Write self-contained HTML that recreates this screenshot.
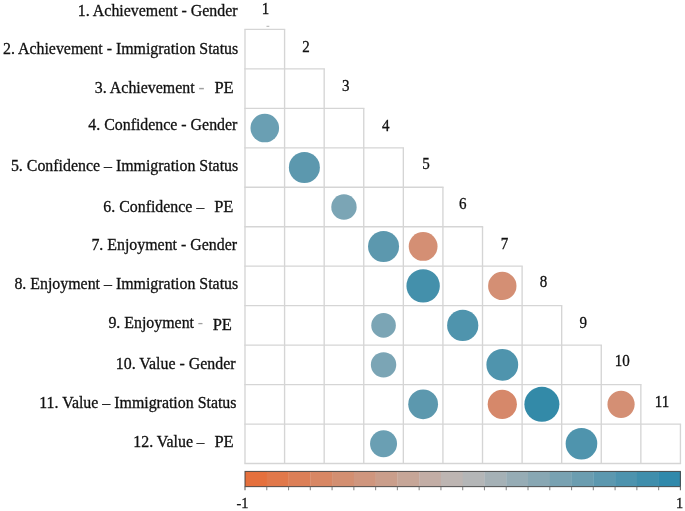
<!DOCTYPE html><html><head><meta charset="utf-8"><title>Correlation plot</title>
<style>html,body{margin:0;padding:0;background:#fff;}body{width:685px;height:511px;overflow:hidden;}svg{display:block;filter:blur(0.4px);}text{font-family:"Liberation Serif",serif;fill:#111;stroke:#111;stroke-width:0.3px;}</style></head><body>
<svg width="685" height="511" viewBox="0 0 685 511">
<rect width="685" height="511" fill="#fff"/>
<g fill="none" stroke="#d5d5d5" stroke-width="1.35">
<line x1="244.33" y1="29.40" x2="285.25" y2="29.40"/>
<line x1="244.33" y1="68.87" x2="324.84" y2="68.87"/>
<line x1="244.33" y1="108.33" x2="364.43" y2="108.33"/>
<line x1="244.33" y1="147.80" x2="404.01" y2="147.80"/>
<line x1="244.33" y1="187.26" x2="443.60" y2="187.26"/>
<line x1="244.33" y1="226.73" x2="483.18" y2="226.73"/>
<line x1="244.33" y1="266.19" x2="522.76" y2="266.19"/>
<line x1="244.33" y1="305.65" x2="562.35" y2="305.65"/>
<line x1="244.33" y1="345.12" x2="601.93" y2="345.12"/>
<line x1="244.33" y1="384.59" x2="641.52" y2="384.59"/>
<line x1="244.33" y1="424.05" x2="681.10" y2="424.05"/>
<line x1="244.33" y1="463.51" x2="681.10" y2="463.51"/>
<line x1="245.00" y1="29.40" x2="245.00" y2="463.51"/>
<line x1="284.58" y1="29.40" x2="284.58" y2="463.51"/>
<line x1="324.17" y1="68.87" x2="324.17" y2="463.51"/>
<line x1="363.75" y1="108.33" x2="363.75" y2="463.51"/>
<line x1="403.34" y1="147.80" x2="403.34" y2="463.51"/>
<line x1="442.93" y1="187.26" x2="442.93" y2="463.51"/>
<line x1="482.51" y1="226.73" x2="482.51" y2="463.51"/>
<line x1="522.10" y1="266.19" x2="522.10" y2="463.51"/>
<line x1="561.68" y1="305.65" x2="561.68" y2="463.51"/>
<line x1="601.26" y1="345.12" x2="601.26" y2="463.51"/>
<line x1="640.85" y1="384.59" x2="640.85" y2="463.51"/>
<line x1="680.43" y1="424.05" x2="680.43" y2="463.51"/>
</g>
<circle cx="264.79" cy="128.06" r="14.30" fill="#6a9fb3"/>
<circle cx="304.38" cy="167.53" r="15.50" fill="#5c98ae"/>
<circle cx="343.96" cy="206.99" r="12.70" fill="#7ba5b5"/>
<circle cx="383.55" cy="246.46" r="15.50" fill="#5c98ae"/>
<circle cx="423.13" cy="246.46" r="14.40" fill="#d48f74"/>
<circle cx="423.13" cy="285.92" r="16.70" fill="#4490ab"/>
<circle cx="502.30" cy="285.92" r="14.20" fill="#d48f74"/>
<circle cx="383.55" cy="325.39" r="12.30" fill="#7ba5b5"/>
<circle cx="462.72" cy="325.39" r="15.60" fill="#4f94ad"/>
<circle cx="383.55" cy="364.85" r="12.70" fill="#7ba5b5"/>
<circle cx="502.30" cy="364.85" r="15.90" fill="#4f94ad"/>
<circle cx="423.13" cy="404.32" r="14.90" fill="#5c98ae"/>
<circle cx="502.30" cy="404.32" r="14.60" fill="#d6886a"/>
<circle cx="541.89" cy="404.32" r="17.50" fill="#338aa8"/>
<circle cx="621.06" cy="404.32" r="13.60" fill="#d48f74"/>
<circle cx="383.55" cy="443.78" r="13.50" fill="#6a9fb3"/>
<circle cx="581.47" cy="443.78" r="15.80" fill="#4f94ad"/>
<line x1="266.5" y1="26.3" x2="269.3" y2="26.3" stroke="#a8a8a8" stroke-width="0.9"/>
<g font-size="16" text-anchor="middle">
<text transform="translate(265.50 14.30) scale(0.94 1.02)">1</text>
<text transform="translate(305.90 52.20) scale(0.94 1.02)">2</text>
<text transform="translate(345.80 91.40) scale(0.94 1.02)">3</text>
<text transform="translate(385.80 131.20) scale(0.94 1.02)">4</text>
<text transform="translate(425.90 169.20) scale(0.94 1.02)">5</text>
<text transform="translate(462.80 208.70) scale(0.94 1.02)">6</text>
<text transform="translate(504.40 249.20) scale(0.94 1.02)">7</text>
<text transform="translate(543.60 286.90) scale(0.94 1.02)">8</text>
<text transform="translate(583.30 327.80) scale(0.94 1.02)">9</text>
<text transform="translate(622.30 366.40) scale(0.94 1.02)">10</text>
<text transform="translate(662.10 407.30) scale(0.94 1.02)">11</text>
</g>
<g font-size="15.9">
<text x="237.60" y="16.00" text-anchor="end">1. Achievement - Gender</text>
<text x="238.20" y="53.50" text-anchor="end">2. Achievement - Immigration Status</text>
<text x="194.60" y="93.40" text-anchor="end">3. Achievement</text>
<text x="198.50" y="93.40" font-size="18" style="fill:#a0a0a0;stroke:none">-</text>
<text x="214.40" y="93.40" font-size="16.5">PE</text>
<text x="237.40" y="129.70" text-anchor="end">4. Confidence - Gender</text>
<text x="238.20" y="170.60" text-anchor="end">5. Confidence – Immigration Status</text>
<text x="192.40" y="211.60" text-anchor="end">6. Confidence</text>
<text x="196.50" y="211.60" font-size="15.4">–</text>
<text x="214.20" y="211.60" font-size="16.5">PE</text>
<text x="237.00" y="249.90" text-anchor="end">7. Enjoyment - Gender</text>
<text x="238.20" y="289.20" text-anchor="end">8. Enjoyment – Immigration Status</text>
<text x="194.00" y="328.30" text-anchor="end">9. Enjoyment</text>
<text x="197.80" y="328.30" font-size="15.9" style="fill:#a0a0a0;stroke:none">-</text>
<text x="212.70" y="329.90" font-size="16.5">PE</text>
<text x="235.50" y="369.10" text-anchor="end">10. Value - Gender</text>
<text x="236.50" y="408.20" text-anchor="end">11. Value – Immigration Status</text>
<text x="193.00" y="447.40" text-anchor="end">12. Value</text>
<text x="196.70" y="447.40" font-size="15">–</text>
<text x="214.40" y="447.40" font-size="16.5">PE</text>
</g>
<rect x="245.00" y="471.45" width="22.07" height="15.15" fill="rgb(229,112,61)"/>
<rect x="266.77" y="471.45" width="22.07" height="15.15" fill="rgb(225,120,74)"/>
<rect x="288.54" y="471.45" width="22.07" height="15.15" fill="rgb(220,127,87)"/>
<rect x="310.31" y="471.45" width="22.07" height="15.15" fill="rgb(216,135,100)"/>
<rect x="332.08" y="471.45" width="22.07" height="15.15" fill="rgb(211,143,113)"/>
<rect x="353.85" y="471.45" width="22.07" height="15.15" fill="rgb(207,150,126)"/>
<rect x="375.62" y="471.45" width="22.07" height="15.15" fill="rgb(202,158,139)"/>
<rect x="397.39" y="471.45" width="22.07" height="15.15" fill="rgb(198,166,152)"/>
<rect x="419.16" y="471.45" width="22.07" height="15.15" fill="rgb(194,173,165)"/>
<rect x="440.93" y="471.45" width="22.07" height="15.15" fill="rgb(189,181,178)"/>
<rect x="462.70" y="471.45" width="22.07" height="15.15" fill="rgb(180,182,183)"/>
<rect x="484.47" y="471.45" width="22.07" height="15.15" fill="rgb(165,177,182)"/>
<rect x="506.24" y="471.45" width="22.07" height="15.15" fill="rgb(150,172,181)"/>
<rect x="528.01" y="471.45" width="22.07" height="15.15" fill="rgb(136,167,179)"/>
<rect x="549.78" y="471.45" width="22.07" height="15.15" fill="rgb(121,162,178)"/>
<rect x="571.55" y="471.45" width="22.07" height="15.15" fill="rgb(107,157,176)"/>
<rect x="593.32" y="471.45" width="22.07" height="15.15" fill="rgb(92,152,175)"/>
<rect x="615.09" y="471.45" width="22.07" height="15.15" fill="rgb(77,147,174)"/>
<rect x="636.86" y="471.45" width="22.07" height="15.15" fill="rgb(63,142,172)"/>
<rect x="658.63" y="471.45" width="22.07" height="15.15" fill="rgb(48,137,171)"/>
<rect x="245.00" y="471.45" width="435.40" height="15.15" fill="none" stroke="#3a3a3a" stroke-opacity="0.8" stroke-width="1.1"/>
<g stroke="#666" stroke-width="1.1">
<line x1="245.00" y1="486.60" x2="245.00" y2="490.30"/>
<line x1="266.77" y1="486.60" x2="266.77" y2="490.30" stroke-opacity="0.75"/>
<line x1="288.54" y1="486.60" x2="288.54" y2="490.30" stroke-opacity="0.75"/>
<line x1="310.31" y1="486.60" x2="310.31" y2="490.30" stroke-opacity="0.75"/>
<line x1="332.08" y1="486.60" x2="332.08" y2="490.30" stroke-opacity="0.75"/>
<line x1="353.85" y1="486.60" x2="353.85" y2="490.30" stroke-opacity="0.75"/>
<line x1="375.62" y1="486.60" x2="375.62" y2="490.30" stroke-opacity="0.75"/>
<line x1="397.39" y1="486.60" x2="397.39" y2="490.30" stroke-opacity="0.75"/>
<line x1="419.16" y1="486.60" x2="419.16" y2="490.30" stroke-opacity="0.75"/>
<line x1="440.93" y1="486.60" x2="440.93" y2="490.30" stroke-opacity="0.75"/>
<line x1="462.70" y1="486.60" x2="462.70" y2="490.30" stroke-opacity="0.75"/>
<line x1="484.47" y1="486.60" x2="484.47" y2="490.30" stroke-opacity="0.75"/>
<line x1="506.24" y1="486.60" x2="506.24" y2="490.30" stroke-opacity="0.75"/>
<line x1="528.01" y1="486.60" x2="528.01" y2="490.30" stroke-opacity="0.75"/>
<line x1="549.78" y1="486.60" x2="549.78" y2="490.30" stroke-opacity="0.75"/>
<line x1="571.55" y1="486.60" x2="571.55" y2="490.30" stroke-opacity="0.75"/>
<line x1="593.32" y1="486.60" x2="593.32" y2="490.30" stroke-opacity="0.75"/>
<line x1="615.09" y1="486.60" x2="615.09" y2="490.30" stroke-opacity="0.75"/>
<line x1="636.86" y1="486.60" x2="636.86" y2="490.30" stroke-opacity="0.75"/>
<line x1="658.63" y1="486.60" x2="658.63" y2="490.30" stroke-opacity="0.75"/>
<line x1="680.40" y1="486.60" x2="680.40" y2="490.30"/>
</g>
<text transform="translate(242.4 507.8) scale(0.9 0.97)" font-size="16" text-anchor="middle">-1</text>
<text transform="translate(679.6 507.8) scale(0.9 0.97)" font-size="16" text-anchor="middle">1</text>
</svg></body></html>
